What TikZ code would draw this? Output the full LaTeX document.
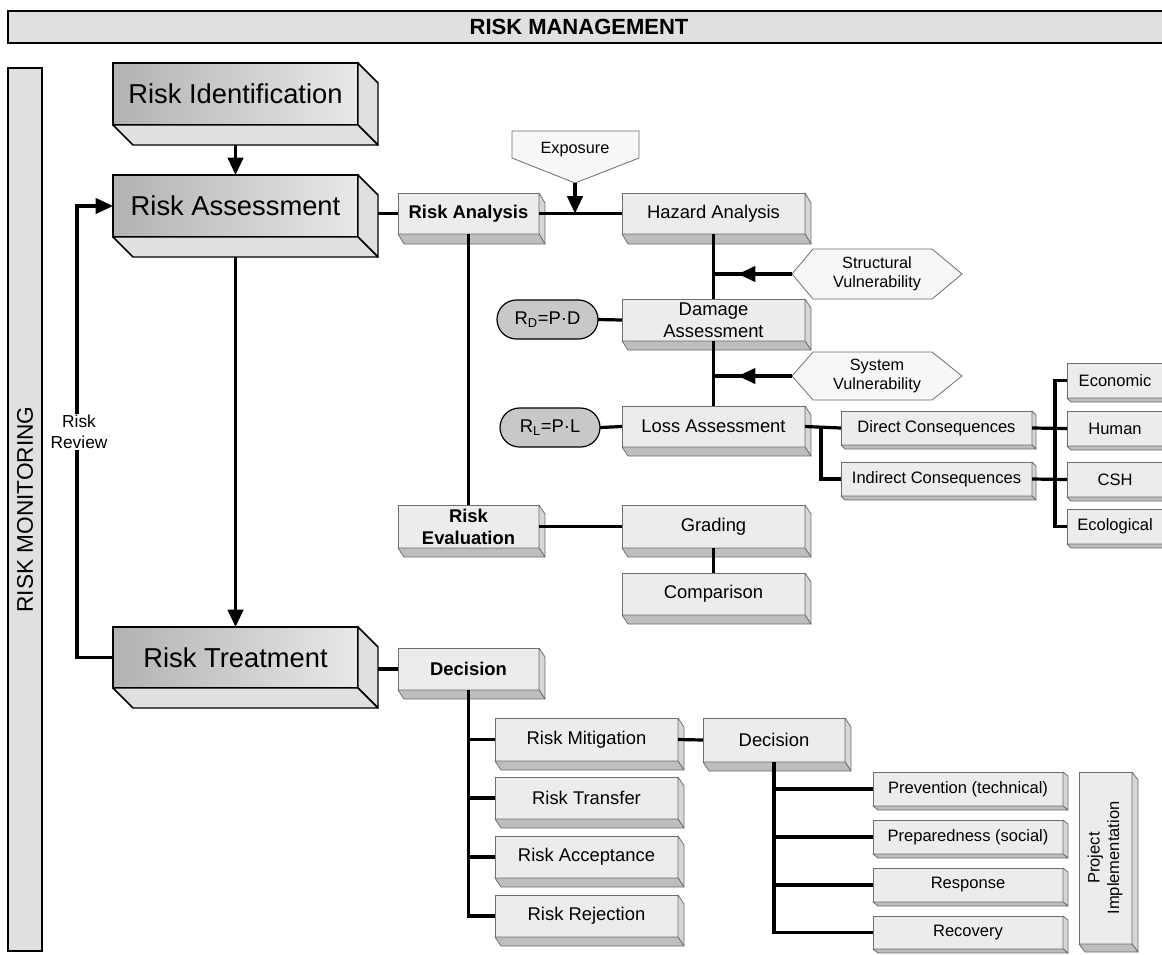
\documentclass[tikz,border=0pt]{standalone}
\usepackage{fontspec}
\setmainfont{Liberation Sans}
\usetikzlibrary{arrows.meta,calc,shapes.misc}
\definecolor{frontc}{HTML}{ECECEC}
\definecolor{sideRc}{HTML}{D6D6D6}
\definecolor{sideBc}{HTML}{BEBEBE}
\definecolor{edgec}{HTML}{6E6E6E}
\definecolor{bandc}{HTML}{E0E0E0}
\definecolor{pillc}{HTML}{C8C8C8}
\definecolor{hexc}{HTML}{F7F7F7}
\definecolor{bigL}{HTML}{B2B2B2}
\definecolor{bigR}{HTML}{E8E8E8}

% big 3D box: name x1 y1 x2 y2 text
\newcommand\bigbox[6]{%
  \node[bigbox, minimum width={(#4-#2)*0.75pt}, minimum height={(#5-#3)*0.75pt}] (#1) at ({(#2+#4)/2},{(#3+#5)/2}) {#6};
  \filldraw[bigside] (#1.north east) -- ++(20,20) -- ($(#1.south east)+(20,20)$) -- (#1.south east) -- cycle;
  \filldraw[bigside] (#1.south west) -- ++(20,20) -- ($(#1.south east)+(20,20)$) -- (#1.south east) -- cycle;
}
% small 3D box: [style] name x1 y1 x2 y2 dx dy text
\newcommand\mybox[9][]{%
  \node[smallbox,#1, minimum width={(#5-#3)*0.75pt}, minimum height={(#6-#4)*0.75pt}] (#2) at ({(#3+#5)/2},{(#4+#6)/2}) {#9};
  \filldraw[sideR] (#2.north east) -- ++(#7,#8) -- ($(#2.south east)+(#7,#8)$) -- (#2.south east) -- cycle;
  \filldraw[sideB] (#2.south west) -- ++(#7,#8) -- ($(#2.south east)+(#7,#8)$) -- (#2.south east) -- cycle;
}

\begin{document}
\begin{tikzpicture}[x=0.75pt,y=-0.75pt,
  bigbox/.style={draw=black,line width=1.1pt,left color=bigL,right color=bigR,inner sep=0pt,outer sep=0pt,align=center,font=\fontsize{20.5}{24}\selectfont},
  bigside/.style={fill=bandc,draw=black,line width=1.1pt,line join=round},
  smallbox/.style={draw=edgec,line width=0.6pt,fill=frontc,inner sep=0pt,outer sep=0pt,align=center,font=\fontsize{13.8}{16.5}\selectfont},
  boldtxt/.style={font=\bfseries\fontsize{13.8}{16.5}\selectfont},
  smtxt/.style={font=\fontsize{12.4}{14.5}\selectfont},
  sideR/.style={fill=sideRc,draw=edgec,line width=0.6pt,line join=round},
  sideB/.style={fill=sideBc,draw=edgec,line width=0.6pt,line join=round},
  conn/.style={line width=2.4pt,draw=black},
  arr/.style={-{Triangle[length=13pt,width=11.5pt]}},
  hexs/.style={fill=hexc,draw=edgec,line width=0.6pt},
  hextxt/.style={align=center,font=\fontsize{12.2}{14.5}\selectfont},
  pillst/.style={rounded rectangle,draw=black,line width=0.9pt,fill=pillc,inner sep=0pt,outer sep=0pt,font=\fontsize{13.8}{16}\selectfont},
  bandst/.style={fill=bandc,draw=black,line width=1.1pt},
]
\useasboundingbox (0,0) rectangle (1162,954);

% bands
\draw[bandst] (8,11) rectangle (1185,43);
\node[font=\bfseries\fontsize{16.5}{20}\selectfont] (title) at (579,27) {RISK MANAGEMENT};
\node[bandst,inner sep=0pt,outer sep=0pt,minimum width={34*0.75pt},minimum height={883*0.75pt},font=\fontsize{17}{20}\selectfont] (monitor) at (25,509.5) {\rotatebox{90}{RISK MONITORING}};

% big boxes
\bigbox{RI}{113}{63}{358}{125}{Risk Identification}
\bigbox{RA}{113}{175}{358}{237}{Risk Assessment}
\bigbox{RT}{113}{627}{358}{688}{Risk Treatment}

% small boxes
\mybox[boldtxt]{ran}{398}{193}{539}{234}{6}{10}{Risk Analysis}
\mybox{haz}{622}{193}{805}{234}{6}{10}{Hazard Analysis}
\mybox{dam}{622}{299}{805}{341}{6}{9}{Damage\\Assessment}
\mybox{loss}{622}{406}{805}{447}{6}{9}{Loss Assessment}
\mybox[boldtxt]{rev}{398}{505}{539}{548}{6}{9}{Risk\\Evaluation}
\mybox{grad}{622}{505}{805}{548}{6}{9}{Grading}
\mybox{comp}{622}{573}{805}{615}{6}{9}{Comparison}
\mybox[boldtxt]{dec}{398}{648}{539}{690}{6}{9}{Decision}
\mybox{mit}{495}{718}{678}{761}{6}{9}{Risk Mitigation}
\mybox{trans}{495}{777}{678}{819}{6}{9}{Risk Transfer}
\mybox{acc}{495}{836}{678}{878}{6}{9}{Risk Acceptance}
\mybox{rej}{495}{895}{678}{937}{6}{9}{Risk Rejection}
\mybox{dec2}{703}{718}{845}{762}{6}{9}{Decision}
\mybox[smtxt]{direct}{841}{411}{1032}{445}{4}{4}{Direct Consequences}
\mybox[smtxt]{indirect}{841}{462}{1032}{496}{4}{4}{Indirect Consequences}
\mybox[smtxt]{econ}{1067}{363}{1163}{398}{4}{4}{Economic}
\mybox[smtxt]{human}{1067}{411}{1163}{446}{4}{4}{Human}
\mybox[smtxt]{csh}{1067}{462}{1163}{497}{4}{4}{CSH}
\mybox[smtxt]{eco}{1067}{509}{1163}{544}{4}{4}{Ecological}
\mybox[smtxt]{prev}{873}{772}{1063}{806}{5}{4}{Prevention (technical)}
\mybox[smtxt]{prep}{873}{820}{1063}{854}{5}{4}{Preparedness (social)}
\mybox[smtxt]{resp}{873}{868}{1063}{902}{5}{4}{Response}
\mybox[smtxt]{reco}{873}{916}{1063}{949}{5}{4}{Recovery}
\mybox[smtxt]{proj}{1079}{772}{1132}{944}{6}{8}{\rotatebox{90}{\begin{tabular}{@{}c@{}}Project\\Implementation\end{tabular}}}

% pills
\node[pillst,minimum width={101*0.75pt},minimum height={39*0.75pt}] (rd) at (547.5,319.5) {R\textsubscript{D}=P·D};
\node[pillst,minimum width={100*0.75pt},minimum height={39*0.75pt}] (rl) at (550,427.5) {R\textsubscript{L}=P·L};

% exposure pentagon
\draw[hexs] (512,131) -- (639,131) -- (639,158) -- (575,183) -- (512,158) -- cycle;
\coordinate (expoTip) at (575,183);
\node[hextxt] (expo) at (575,150) {Exposure};

% hexagons
\draw[hexs] (792,274) -- (813,249) -- (932,249) -- (962,274) -- (932,299) -- (813,299) -- cycle;
\coordinate (structL) at (792,274);
\node[hextxt] (struct) at (877,274) {Structural\\Vulnerability};
\draw[hexs] (792,376) -- (813,352) -- (932,352) -- (962,376) -- (932,400) -- (813,400) -- cycle;
\coordinate (sysL) at (792,376);
\node[hextxt] (sys) at (877,376) {System\\Vulnerability};

% connectors: main flow
\draw[conn,arr] ([yshift=-15pt]RI.south) -- (RA.north);
\draw[conn,arr] ([yshift=-15pt]RA.south) -- (RT.north);
\draw[conn,arr] (RT.west) -- ++(-36,0) |- (RA.west);
\node[fill=white,inner sep=1pt,align=center,font=\fontsize{13}{16}\selectfont] (review) at (79,432) {Risk\\Review};

% risk analysis branch
\draw[conn] ([xshift=15pt]RA.east |- ran.west) -- (ran.west);
\draw[conn] (ran.east) -- (haz.west);
\draw[conn,arr] (expoTip) -- (expoTip |- ran.east);
\draw[conn] (ran.south) -- (rev.north);
\draw[conn] (haz.south) -- (dam.north);
\draw[conn] (structL) -- (structL -| haz.south);
\draw[conn,arr] (structL) -- ++(-54,0);
\draw[conn] (dam.south) -- (loss.north);
\draw[conn] (sysL) -- (sysL -| dam.south);
\draw[conn,arr] (sysL) -- ++(-54,0);
\draw[conn] (rd.east) -- (dam.west);
\draw[conn] (rl.east) -- (loss.west);
\draw[conn] (loss.east) -- (direct.west);
\draw[conn] ([xshift=12pt]loss.east) |- (indirect.west);
\draw[conn] (direct.east) -- (human.west);
\draw[conn] (indirect.east) -- (csh.west);
\draw[conn] (econ.west) -- ++(-12,0) |- (eco.west);

% evaluation
\draw[conn] (rev.east) -- (grad.west);
\draw[conn] (grad.south) -- (comp.north);

% treatment
\draw[conn] ([xshift=15pt]RT.east |- dec.west) -- (dec.west);
\draw[conn] (dec.south) |- (rej.west);
\foreach \n in {mit,trans,acc} \draw[conn] (\n.west) -- (\n.west -| dec.south);
\draw[conn] (mit.east) -- (dec2.west);
\draw[conn] (dec2.south) |- (reco.west);
\foreach \n in {prev,prep,resp} \draw[conn] (\n.west) -- (\n.west -| dec2.south);
\end{tikzpicture}
\end{document}
